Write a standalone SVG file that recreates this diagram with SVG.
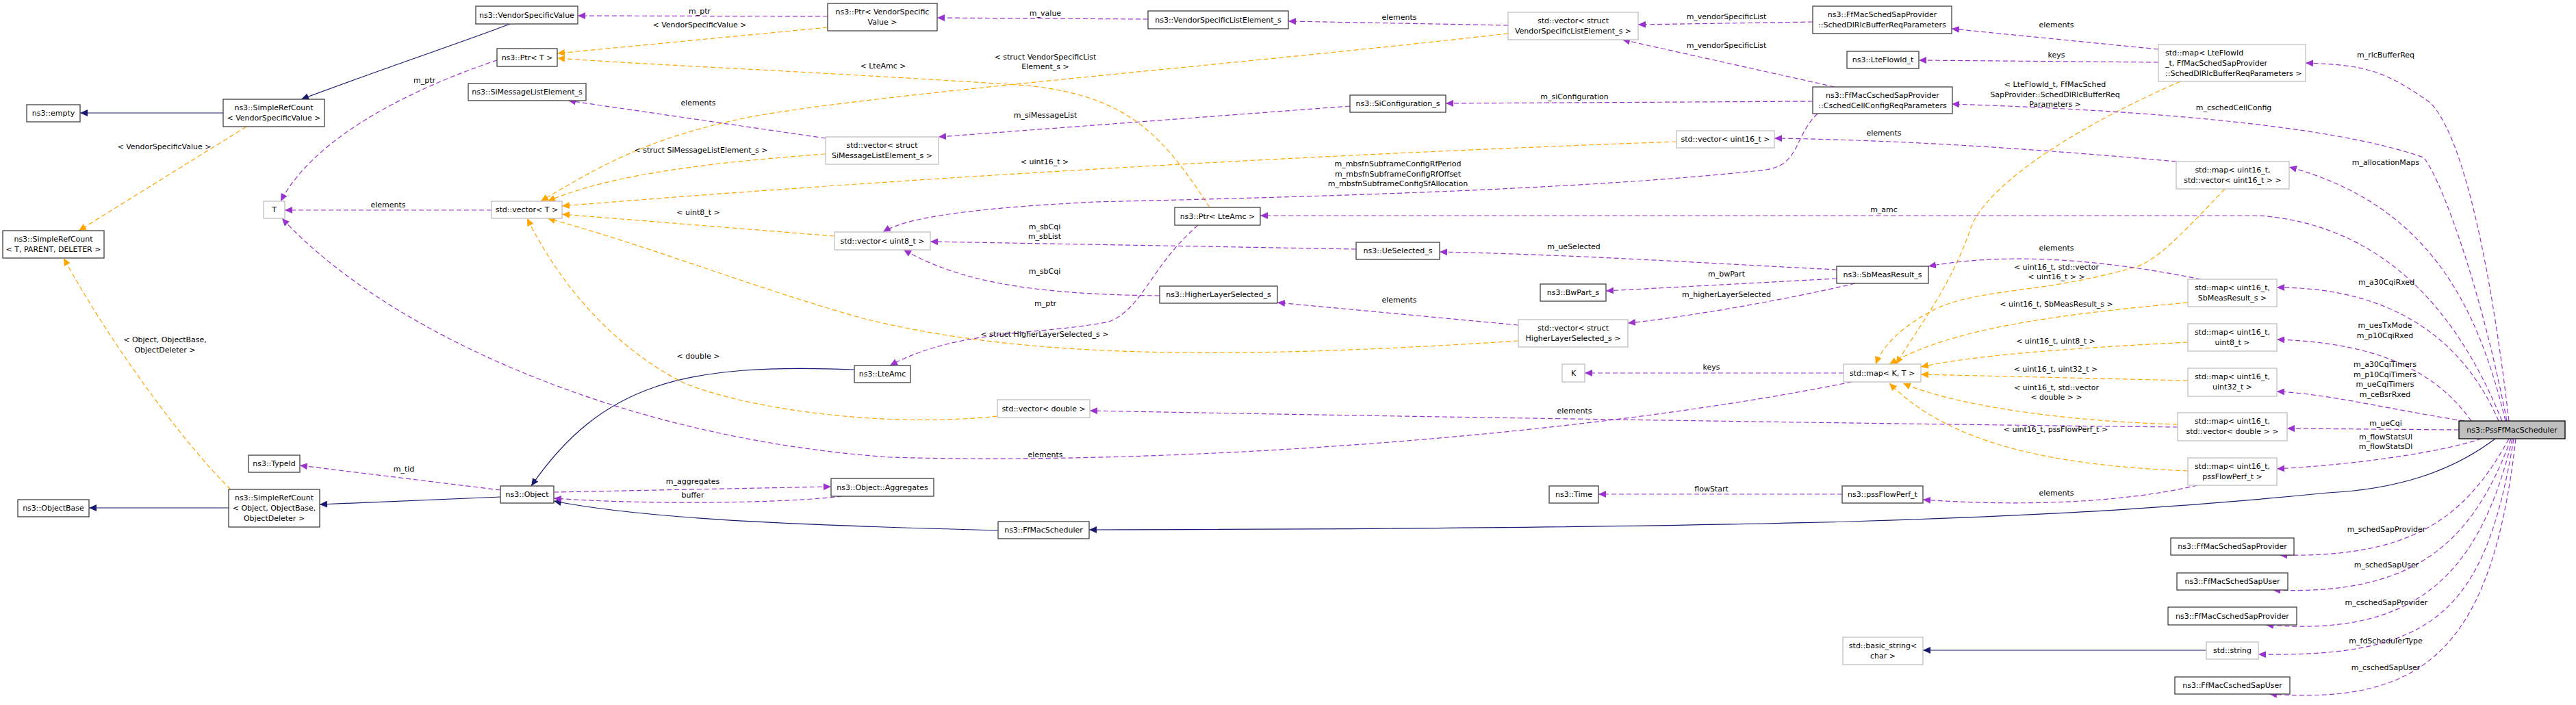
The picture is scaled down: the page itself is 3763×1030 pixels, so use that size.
<svg xmlns="http://www.w3.org/2000/svg" width="3763" height="1030" viewBox="0 0 3763 1030">
<style>
text{font-family:"DejaVu Sans","Liberation Sans",sans-serif;font-size:11px;fill:#000}
.n rect{fill:#fff;stroke:#404040;stroke-width:1.3}
.g rect{fill:#fff;stroke:#bfbfbf;stroke-width:1.3}
.sel rect{fill:#bfbfbf;stroke:#000;stroke-width:1.3}
.n text,.g text,.sel text{text-anchor:middle}
.p{fill:none;stroke:#9a32cd;stroke-dasharray:7,4;stroke-width:1.2;marker-end:url(#mp)}
.o{fill:none;stroke:#ffa500;stroke-dasharray:7,4;stroke-width:1.2;marker-end:url(#mo)}
.b{fill:none;stroke:#191970;stroke-width:1.2;marker-end:url(#mb)}
.l{text-anchor:middle}
</style>
<defs>
<marker id="mp" markerUnits="userSpaceOnUse" markerWidth="12" markerHeight="10" refX="11" refY="5" orient="auto"><path d="M0,0L11,5L0,10z" fill="#9a32cd"/></marker>
<marker id="mo" markerUnits="userSpaceOnUse" markerWidth="12" markerHeight="10" refX="11" refY="5" orient="auto"><path d="M0,0L11,5L0,10z" fill="#ffa500"/></marker>
<marker id="mb" markerUnits="userSpaceOnUse" markerWidth="12" markerHeight="10" refX="11" refY="5" orient="auto"><path d="M0,0L11,5L0,10z" fill="#191970"/></marker>
</defs>
<rect width="3763" height="1030" fill="#fff"/>
<g id="edges">
<path class="b" d="M745,35 C680,60 560,100 440,145"/>
<path class="b" d="M326,165 L117,165"/>
<path class="o" d="M360,185 L115,337"/>
<path class="o" d="M337,715 C270,650 160,500 93,377"/>
<path class="b" d="M334,742 L130,742"/>
<path class="b" d="M731,726 L467,737"/>
<path class="p" d="M731,716 L438,680"/>
<path class="p" d="M726,88 C660,110 470,180 410,294"/>
<path class="p" d="M718,307 L416,307"/>
<path class="p" d="M2705,558 C2300,640 1700,680 1300,668 C900,640 560,480 412,319"/>
<path class="b" d="M1248,540 C1000,530 880,560 776,710"/>
<path class="b" d="M1458,775 C1200,768 950,760 809,732"/>
<path class="p" d="M809,719 L1214,711"/>
<path class="p" d="M1230,725 C1150,735 950,738 809,728"/>
<path class="p" d="M1750,329 C1680,390 1670,450 1620,470 C1520,490 1400,480 1300,534"/>
<path class="o" d="M1767,303 C1700,200 1650,140 1500,125 C1200,105 950,95 814,85"/>
<path class="o" d="M1209,40 L814,78"/>
<path class="p" d="M1209,24 L844,23"/>
<path class="p" d="M1677,28 L1369,26"/>
<path class="p" d="M2203,37 L1882,31"/>
<path class="o" d="M2203,49 C1800,95 1300,135 1100,170 C950,200 880,240 790,294"/>
<path class="p" d="M2648,32 L2393,36"/>
<path class="p" d="M2680,127 L2370,58"/>
<path class="p" d="M2648,148 L2112,151"/>
<path class="p" d="M1972,155 L1371,200"/>
<path class="p" d="M1206,202 L830,147"/>
<path class="o" d="M1206,225 C1000,240 880,260 800,294"/>
<path class="o" d="M2449,207 C1800,230 1200,270 821,301"/>
<path class="p" d="M2655,166 C2620,200 2630,240 2580,248 C2300,280 1800,290 1600,295 C1400,305 1320,320 1290,339"/>
<path class="o" d="M1219,345 L821,313"/>
<path class="p" d="M1981,364 L1359,353"/>
<path class="p" d="M1694,432 C1500,430 1400,410 1320,365"/>
<path class="p" d="M2683,394 C2500,385 2300,372 2103,368"/>
<path class="p" d="M2683,407 L2346,425"/>
<path class="p" d="M2710,414 C2600,440 2450,465 2378,472"/>
<path class="p" d="M2218,475 L1866,442"/>
<path class="o" d="M2218,498 C1800,525 1500,525 1260,465 C1100,420 950,360 800,319"/>
<path class="o" d="M1457,608 C1300,625 1100,600 1000,560 C900,510 820,420 770,319"/>
<path class="p" d="M2693,545 L2315,545"/>
<path class="p" d="M2691,722 L2335,722"/>
<path class="p" d="M3153,72 L2851,42"/>
<path class="p" d="M3153,91 L2803,88"/>
<path class="o" d="M3185,119 C3000,200 2900,280 2880,330 C2850,420 2800,480 2770,532"/>
<path class="p" d="M3179,236 C3000,220 2800,205 2592,202"/>
<path class="o" d="M3250,276 C3180,350 3150,380 3120,390 C2980,430 2900,420 2830,450 C2780,475 2750,505 2740,532"/>
<path class="p" d="M3215,408 C3100,385 2950,365 2817,389"/>
<path class="o" d="M3196,442 C3000,460 2850,480 2760,532"/>
<path class="o" d="M3196,500 C3000,510 2880,520 2806,536"/>
<path class="o" d="M3196,556 L2806,547"/>
<path class="o" d="M3181,620 C3000,615 2850,590 2780,560"/>
<path class="p" d="M3181,624 C2800,620 2000,608 1592,600"/>
<path class="o" d="M3196,688 C3000,680 2850,650 2760,560"/>
<path class="p" d="M3210,709 C3100,735 2950,740 2809,730"/>
<path class="p" d="M3665,615 C3640,400 3600,200 3550,150 C3480,100 3450,95 3368,92"/>
<path class="p" d="M3662,615 C3620,400 3560,250 3540,230 C3400,180 3100,160 2851,152"/>
<path class="p" d="M3660,615 C3620,450 3550,300 3344,244"/>
<path class="p" d="M3655,615 C3600,480 3500,330 3300,315 L1841,315"/>
<path class="p" d="M3650,615 C3600,500 3500,420 3326,420"/>
<path class="p" d="M3610,615 C3550,530 3450,500 3326,496"/>
<path class="p" d="M3600,615 C3500,600 3400,575 3326,572"/>
<path class="p" d="M3592,628 L3341,626"/>
<path class="p" d="M3625,641 C3550,665 3420,680 3326,685"/>
<path class="b" d="M3645,641 C3580,690 3500,715 3400,720 C3000,760 2600,772 1591,774"/>
<path class="p" d="M3665,641 C3600,760 3520,815 3330,811"/>
<path class="p" d="M3668,641 C3610,800 3520,870 3320,862"/>
<path class="p" d="M3670,641 C3620,850 3520,930 3310,913"/>
<path class="p" d="M3672,641 C3630,900 3550,960 3299,956"/>
<path class="p" d="M3675,641 C3640,950 3540,1030 3315,1014"/>
<path class="b" d="M3223,950 L2809,950"/>
</g>
<g id="labels">
<text class="l" x="240" y="218">&lt; VendorSpecificValue &gt;</text>
<text class="l" x="241" y="500">&lt; Object, ObjectBase,</text>
<text class="l" x="241" y="515">ObjectDeleter &gt;</text>
<text class="l" x="620" y="121">m_ptr</text>
<text class="l" x="567" y="303">elements</text>
<text class="l" x="590" y="689">m_tid</text>
<text class="l" x="1022" y="20">m_ptr</text>
<text class="l" x="1022" y="40">&lt; VendorSpecificValue &gt;</text>
<text class="l" x="1020" y="154">elements</text>
<text class="l" x="1024" y="223">&lt; struct SiMessageListElement_s &gt;</text>
<text class="l" x="1020" y="314">&lt; uint8_t &gt;</text>
<text class="l" x="1290" y="100">&lt; LteAmc &gt;</text>
<text class="l" x="1020" y="524">&lt; double &gt;</text>
<text class="l" x="1012" y="707">m_aggregates</text>
<text class="l" x="1012" y="727">buffer</text>
<text class="l" x="1527" y="23">m_value</text>
<text class="l" x="1527" y="87">&lt; struct VendorSpecificList</text>
<text class="l" x="1527" y="101">Element_s &gt;</text>
<text class="l" x="1527" y="172">m_siMessageList</text>
<text class="l" x="1526" y="240">&lt; uint16_t &gt;</text>
<text class="l" x="1526" y="335">m_sbCqi</text>
<text class="l" x="1526" y="349">m_sbList</text>
<text class="l" x="1526" y="400">m_sbCqi</text>
<text class="l" x="1527" y="447">m_ptr</text>
<text class="l" x="1526" y="492">&lt; struct HigherLayerSelected_s &gt;</text>
<text class="l" x="1527" y="668">elements</text>
<text class="l" x="2044" y="29">elements</text>
<text class="l" x="2522" y="28">m_vendorSpecificList</text>
<text class="l" x="2522" y="70">m_vendorSpecificList</text>
<text class="l" x="2300" y="145">m_siConfiguration</text>
<text class="l" x="2042" y="243">m_mbsfnSubframeConfigRfPeriod</text>
<text class="l" x="2042" y="258">m_mbsfnSubframeConfigRfOffset</text>
<text class="l" x="2042" y="272">m_mbsfnSubframeConfigSfAllocation</text>
<text class="l" x="2299" y="364">m_ueSelected</text>
<text class="l" x="2522" y="404">m_bwPart</text>
<text class="l" x="2522" y="434">m_higherLayerSelected</text>
<text class="l" x="2044" y="442">elements</text>
<text class="l" x="2300" y="604">elements</text>
<text class="l" x="2500" y="540">keys</text>
<text class="l" x="2500" y="718">flowStart</text>
<text class="l" x="3004" y="40">elements</text>
<text class="l" x="3004" y="84">keys</text>
<text class="l" x="3002" y="127">&lt; LteFlowId_t, FfMacSched</text>
<text class="l" x="3002" y="142">SapProvider::SchedDlRlcBufferReq</text>
<text class="l" x="3002" y="156">Parameters &gt;</text>
<text class="l" x="2752" y="198">elements</text>
<text class="l" x="2752" y="310">m_amc</text>
<text class="l" x="3004" y="366">elements</text>
<text class="l" x="3004" y="394">&lt; uint16_t, std::vector</text>
<text class="l" x="3004" y="408">&lt; uint16_t &gt; &gt;</text>
<text class="l" x="3004" y="448">&lt; uint16_t, SbMeasResult_s &gt;</text>
<text class="l" x="3003" y="502">&lt; uint16_t, uint8_t &gt;</text>
<text class="l" x="3003" y="543">&lt; uint16_t, uint32_t &gt;</text>
<text class="l" x="3004" y="570">&lt; uint16_t, std::vector</text>
<text class="l" x="3004" y="584">&lt; double &gt; &gt;</text>
<text class="l" x="3003" y="631">&lt; uint16_t, pssFlowPerf_t &gt;</text>
<text class="l" x="3004" y="724">elements</text>
<text class="l" x="3485" y="84">m_rlcBufferReq</text>
<text class="l" x="3263" y="161">m_cschedCellConfig</text>
<text class="l" x="3485" y="241">m_allocationMaps</text>
<text class="l" x="3486" y="416">m_a30CqiRxed</text>
<text class="l" x="3484" y="479">m_uesTxMode</text>
<text class="l" x="3484" y="494">m_p10CqiRxed</text>
<text class="l" x="3484" y="536">m_a30CqiTimers</text>
<text class="l" x="3484" y="551">m_p10CqiTimers</text>
<text class="l" x="3484" y="565">m_ueCqiTimers</text>
<text class="l" x="3484" y="580">m_ceBsrRxed</text>
<text class="l" x="3485" y="622">m_ueCqi</text>
<text class="l" x="3485" y="642">m_flowStatsUl</text>
<text class="l" x="3485" y="656">m_flowStatsDl</text>
<text class="l" x="3486" y="777">m_schedSapProvider</text>
<text class="l" x="3486" y="829">m_schedSapUser</text>
<text class="l" x="3486" y="884">m_cschedSapProvider</text>
<text class="l" x="3485" y="940">m_fdSchedulerType</text>
<text class="l" x="3485" y="979">m_cschedSapUser</text>
</g>
<g id="empty" class="n"><rect x="39" y="153" width="78" height="25"/><text x="78" y="169">ns3::empty</text></g>
<g id="src_vsv" class="n"><rect x="326" y="145" width="148" height="40"/><text x="400" y="161">ns3::SimpleRefCount</text><text x="400" y="176">&lt; VendorSpecificValue &gt;</text></g>
<g id="src_tpd" class="n"><rect x="4" y="337" width="148" height="40"/><text x="78" y="353">ns3::SimpleRefCount</text><text x="78" y="368">&lt; T, PARENT, DELETER &gt;</text></g>
<g id="T" class="g"><rect x="385" y="294" width="31" height="25"/><text x="400.5" y="310">T</text></g>
<g id="objectbase" class="n"><rect x="26" y="730" width="104" height="25"/><text x="78" y="746">ns3::ObjectBase</text></g>
<g id="src_obj" class="n"><rect x="334" y="715" width="133" height="55"/><text x="400.5" y="731">ns3::SimpleRefCount</text><text x="400.5" y="746">&lt; Object, ObjectBase,</text><text x="400.5" y="761">ObjectDeleter &gt;</text></g>
<g id="typeid" class="n"><rect x="363" y="665" width="75" height="25"/><text x="400.5" y="681">ns3::TypeId</text></g>
<g id="vsv" class="n"><rect x="695" y="9" width="149" height="26"/><text x="769.5" y="26">ns3::VendorSpecificValue</text></g>
<g id="ptrT" class="n"><rect x="726" y="71" width="88" height="26"/><text x="770" y="88">ns3::Ptr&lt; T &gt;</text></g>
<g id="simle" class="n"><rect x="684" y="122" width="172" height="25"/><text x="770" y="138">ns3::SiMessageListElement_s</text></g>
<g id="vecT" class="g"><rect x="718" y="294" width="103" height="25"/><text x="769.5" y="310">std::vector&lt; T &gt;</text></g>
<g id="ptrVsv" class="n"><rect x="1209" y="5" width="160" height="40"/><text x="1289" y="21">ns3::Ptr&lt; VendorSpecific</text><text x="1289" y="36">Value &gt;</text></g>
<g id="siVec" class="g"><rect x="1206" y="200" width="165" height="40"/><text x="1288.5" y="216">std::vector&lt; struct</text><text x="1288.5" y="231">SiMessageListElement_s &gt;</text></g>
<g id="vecU8" class="g"><rect x="1219" y="339" width="140" height="26"/><text x="1289" y="356">std::vector&lt; uint8_t &gt;</text></g>
<g id="object" class="n"><rect x="731" y="710" width="78" height="25"/><text x="770" y="726">ns3::Object</text></g>
<g id="aggr" class="n"><rect x="1214" y="699" width="150" height="26"/><text x="1289" y="716">ns3::Object::Aggregates</text></g>
<g id="lteamc" class="n"><rect x="1248" y="534" width="82" height="25"/><text x="1289" y="550">ns3::LteAmc</text></g>
<g id="vsle" class="n"><rect x="1677" y="16" width="205" height="26"/><text x="1779.5" y="33">ns3::VendorSpecificListElement_s</text></g>
<g id="ptrLteAmc" class="n"><rect x="1716" y="303" width="125" height="26"/><text x="1778.5" y="320">ns3::Ptr&lt; LteAmc &gt;</text></g>
<g id="hls" class="n"><rect x="1694" y="418" width="172" height="25"/><text x="1780" y="434">ns3::HigherLayerSelected_s</text></g>
<g id="vecDouble" class="g"><rect x="1457" y="584" width="135" height="26"/><text x="1524.5" y="601">std::vector&lt; double &gt;</text></g>
<g id="ffmacsched" class="n"><rect x="1458" y="762" width="133" height="25"/><text x="1524.5" y="778">ns3::FfMacScheduler</text></g>
<g id="vecVsle" class="g"><rect x="2203" y="18" width="190" height="40"/><text x="2298" y="34">std::vector&lt; struct</text><text x="2298" y="49">VendorSpecificListElement_s &gt;</text></g>
<g id="siconf" class="n"><rect x="1972" y="139" width="140" height="25"/><text x="2042" y="155">ns3::SiConfiguration_s</text></g>
<g id="vecU16" class="g"><rect x="2449" y="191" width="143" height="25"/><text x="2520.5" y="207">std::vector&lt; uint16_t &gt;</text></g>
<g id="uesel" class="n"><rect x="1981" y="354" width="122" height="25"/><text x="2042" y="370">ns3::UeSelected_s</text></g>
<g id="bwpart" class="n"><rect x="2250" y="415" width="96" height="25"/><text x="2298" y="431">ns3::BwPart_s</text></g>
<g id="vecHls" class="g"><rect x="2218" y="467" width="160" height="40"/><text x="2298" y="483">std::vector&lt; struct</text><text x="2298" y="498">HigherLayerSelected_s &gt;</text></g>
<g id="K" class="g"><rect x="2282" y="532" width="33" height="26"/><text x="2298.5" y="549">K</text></g>
<g id="time" class="n"><rect x="2263" y="710" width="72" height="25"/><text x="2299" y="726">ns3::Time</text></g>
<g id="schedDl" class="n"><rect x="2648" y="9" width="203" height="40"/><text x="2749.5" y="25">ns3::FfMacSchedSapProvider</text><text x="2749.5" y="40">::SchedDlRlcBufferReqParameters</text></g>
<g id="lteflowid" class="n"><rect x="2698" y="75" width="105" height="25"/><text x="2750.5" y="91">ns3::LteFlowId_t</text></g>
<g id="csched" class="n"><rect x="2648" y="127" width="204" height="39"/><text x="2750" y="143">ns3::FfMacCschedSapProvider</text><text x="2750" y="158">::CschedCellConfigReqParameters</text></g>
<g id="sbmeas" class="n"><rect x="2683" y="389" width="134" height="25"/><text x="2750" y="405">ns3::SbMeasResult_s</text></g>
<g id="mapKT" class="g"><rect x="2693" y="532" width="113" height="26"/><text x="2749.5" y="549">std::map&lt; K, T &gt;</text></g>
<g id="pssflow" class="n"><rect x="2691" y="710" width="118" height="25"/><text x="2750" y="726">ns3::pssFlowPerf_t</text></g>
<g id="basicstr" class="g"><rect x="2692" y="931" width="117" height="40"/><text x="2750.5" y="947">std::basic_string&lt;</text><text x="2750.5" y="962">char &gt;</text></g>
<g id="mapLfi" class="g"><rect x="3153" y="65" width="215" height="54"/><text x="3163" y="81" style="text-anchor:start">std::map&lt; LteFlowId</text><text x="3163" y="96" style="text-anchor:start">_t, FfMacSchedSapProvider</text><text x="3163" y="111" style="text-anchor:start">::SchedDlRlcBufferReqParameters &gt;</text></g>
<g id="mapU16V" class="g"><rect x="3179" y="236" width="165" height="40"/><text x="3261.5" y="252">std::map&lt; uint16_t,</text><text x="3261.5" y="267">std::vector&lt; uint16_t &gt; &gt;</text></g>
<g id="mapSb" class="g"><rect x="3196" y="408" width="130" height="40"/><text x="3261" y="424">std::map&lt; uint16_t,</text><text x="3261" y="439">SbMeasResult_s &gt;</text></g>
<g id="mapU8" class="g"><rect x="3196" y="473" width="130" height="40"/><text x="3261" y="489">std::map&lt; uint16_t,</text><text x="3261" y="504">uint8_t &gt;</text></g>
<g id="mapU32" class="g"><rect x="3196" y="538" width="130" height="41"/><text x="3261" y="554">std::map&lt; uint16_t,</text><text x="3261" y="569">uint32_t &gt;</text></g>
<g id="mapVD" class="g"><rect x="3181" y="603" width="160" height="41"/><text x="3261" y="619">std::map&lt; uint16_t,</text><text x="3261" y="634">std::vector&lt; double &gt; &gt;</text></g>
<g id="mapPF" class="g"><rect x="3196" y="669" width="130" height="40"/><text x="3261" y="685">std::map&lt; uint16_t,</text><text x="3261" y="700">pssFlowPerf_t &gt;</text></g>
<g id="pss" class="sel"><rect x="3592" y="615" width="155" height="26"/><text x="3669.5" y="632">ns3::PssFfMacScheduler</text></g>
<g id="sapProv" class="n"><rect x="3171" y="786" width="180" height="25"/><text x="3261" y="802">ns3::FfMacSchedSapProvider</text></g>
<g id="sapUser" class="n"><rect x="3180" y="837" width="162" height="25"/><text x="3261" y="853">ns3::FfMacSchedSapUser</text></g>
<g id="csapProv" class="n"><rect x="3167" y="887" width="188" height="26"/><text x="3261" y="904">ns3::FfMacCschedSapProvider</text></g>
<g id="str" class="g"><rect x="3223" y="938" width="76" height="25"/><text x="3261" y="954">std::string</text></g>
<g id="csapUser" class="n"><rect x="3177" y="989" width="168" height="25"/><text x="3261" y="1005">ns3::FfMacCschedSapUser</text></g>
</svg>
